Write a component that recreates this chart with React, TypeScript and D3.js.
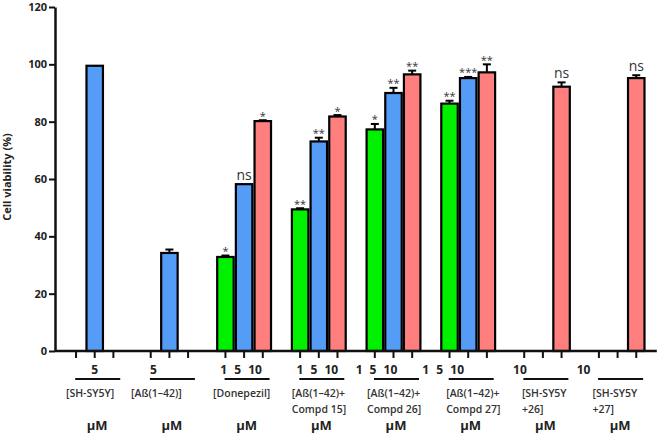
import React, { useEffect, useRef } from "react";
import * as d3 from "d3";

// groups along the x axis
const categories = ["SH-SY5Y", "Ab", "Donepezil", "Compd 15", "Compd 26", "Compd 27", "SH-SY5Y+26", "SH-SY5Y+27"];
const doses = ["1", "5", "10"];

// cell viability (%) per dose, null = not tested
const dose1 = [null, null, 32.8, 49.4, 77.3, 86.3, null, null];
const dose5 = [99.5, 34.2, 58.2, 73.1, 90.0, 95.2, null, null];
const dose10 = [null, null, 80.2, 81.8, 96.5, 97.2, 92.2, 95.2];

// error (SD) per dose
const err1 = [0, 0, 0.5, 0.4, 1.9, 1.0, 0, 0];
const err5 = [0, 1.2, 0, 1.3, 1.8, 0.4, 0, 0];
const err10 = [0, 0, 0.3, 0.5, 1.3, 2.8, 1.5, 1.0];

// significance marks
const sig1 = ["", "", "*", "**", "*", "**", "", ""];
const sig5 = ["", "", "ns", "**", "**", "***", "", ""];
const sig10 = ["", "", "*", "*", "**", "**", "ns", "ns"];

// labels under the axis
const doseLabels = ["5", "5", "1 5 10", "1 5 10", "1 5 10", "1 5 10", "10", "10"];
const groupLabels = [
  ["[SH-SY5Y]"],
  ["[Aß(1–42)]"],
  ["[Donepezil]"],
  ["[Aß(1–42)+", "Compd 15]"],
  ["[Aß(1–42)+", "Compd 26]"],
  ["[Aß(1–42)+", "Compd 27]"],
  ["[SH-SY5Y", "+26]"],
  ["[SH-SY5Y", "+27]"],
];
const yTicks = [0, 20, 40, 60, 80, 100, 120];

const colors: Record<string, string> = { "1": "#00f000", "5": "#559cf7", "10": "#ff7f7f" };

// small nudges to copy where the original placed its labels
const doseShift = [0, -16, -3, -1.5, -17, -25, -23, -34];
const groupShift = [-0.7, -10.4, -3, 1, 1.5, 6, 7, 3];

const font = "'Open Sans', sans-serif";

interface Bar {
  cat: string;
  dose: string;
  value: number;
  err: number;
  sig: string;
}

export default function App() {
  const width = 659,
    height = 437;
  const axisX = 55;

  const y = d3.scaleLinear().domain([0, 120]).range([351, 7]);
  const x0 = d3
    .scaleBand()
    .domain(categories)
    .range([55.5, 656.8])
    .paddingInner(0.25)
    .paddingOuter(0.15);
  const x1 = d3.scaleBand().domain(doses).range([0, x0.bandwidth()]);

  const bars: Bar[] = [];
  const series = [
    { dose: "1", values: dose1, errs: err1, sigs: sig1 },
    { dose: "5", values: dose5, errs: err5, sigs: sig5 },
    { dose: "10", values: dose10, errs: err10, sigs: sig10 },
  ];
  series.forEach((s) => {
    categories.forEach((c, i) => {
      const v = s.values[i];
      if (v !== null) bars.push({ cat: c, dose: s.dose, value: v, err: s.errs[i], sig: s.sigs[i] });
    });
  });

  const ref = useRef<SVGGElement>(null);

  useEffect(() => {
    const g = d3.select(ref.current);
    g.selectAll("*").remove();
    g.call(
      d3
        .axisLeft(y)
        .tickValues(yTicks)
        .tickSize(6)
        .tickSizeOuter(0)
        .tickPadding(2)
    );
    g.select(".domain").attr("stroke", "#111").attr("stroke-width", 2.5);
    g.selectAll(".tick line").attr("stroke", "#111").attr("stroke-width", 2);
    g.selectAll(".tick text")
      .attr("font-family", font)
      .attr("font-weight", 700)
      .attr("font-size", 11)
      .attr("fill", "#222");
  }, []);

  const slot = x1.bandwidth();
  const sw = 2.2;
  const cx = (b: Bar) => (x0(b.cat) as number) + (x1(b.dose) as number) + slot / 2;

  return (
    <svg
      width={width}
      height={height}
      style={{ position: "absolute", left: 0, top: 0, background: "#fff" }}
    >
      {/* y label */}
      <text
        transform="translate(11,177) rotate(-90)"
        textAnchor="middle"
        fontFamily={font}
        fontWeight={700}
        fontSize={11}
        fill="#222"
      >
        Cell viability (%)
      </text>

      {/* bars */}
      {bars.map((b, i) => (
        <rect
          key={"b" + i}
          x={(x0(b.cat) as number) + (x1(b.dose) as number) + sw / 2}
          y={y(b.value)}
          width={slot - sw}
          height={y(0) - y(b.value)}
          fill={colors[b.dose]}
          stroke="#000"
          strokeWidth={sw}
        />
      ))}

      {/* error bars */}
      {bars
        .filter((b) => b.err > 0)
        .map((b, i) => (
          <g key={"e" + i} stroke="#000" strokeWidth={2}>
            <line x1={cx(b)} x2={cx(b)} y1={y(b.value)} y2={y(b.value + b.err)} />
            <line x1={cx(b) - 4} x2={cx(b) + 4} y1={y(b.value + b.err)} y2={y(b.value + b.err)} />
          </g>
        ))}

      {/* significance */}
      {bars
        .filter((b) => b.sig)
        .map((b, i) =>
          b.sig === "ns" ? (
            <text
              key={"s" + i}
              x={cx(b)}
              y={y(b.value + b.err) - 4}
              textAnchor="middle"
              fontFamily={font}
              fontSize={14}
              fill="#333"
            >
              ns
            </text>
          ) : (
            <text
              key={"s" + i}
              x={cx(b)}
              y={y(b.value + b.err) - 0.5}
              textAnchor="middle"
              fontFamily={font}
              fontSize={11}
              fill="#333"
            >
              {b.sig}
            </text>
          )
        )}

      {/* x axis */}
      <line x1={axisX} x2={656.8} y1={y(0)} y2={y(0)} stroke="#111" strokeWidth={2.5} />
      {categories.map((c) =>
        doses.map((d) => {
          const tx = (x0(c) as number) + (x1(d) as number) + slot / 2;
          return (
            <line key={c + d} x1={tx} x2={tx} y1={y(0)} y2={y(0) + 7} stroke="#111" strokeWidth={2} />
          );
        })
      )}

      {/* group labels */}
      {categories.map((c, i) => {
        const left = x0(c) as number;
        const mid = left + x0.bandwidth() / 2;
        return (
          <g key={"l" + c} fontFamily={font} fill="#222">
            <text
              x={mid + doseShift[i]}
              y={374}
              textAnchor="middle"
              fontWeight={700}
              fontSize={12}
              wordSpacing={4}
            >
              {doseLabels[i]}
            </text>
            <line x1={mid - 19.5} x2={mid + 25.5} y1={379} y2={379} stroke="#111" strokeWidth={2} />
            {groupLabels[i].map((t, j) => (
              <text key={j} x={left + groupShift[i]} y={397 + j * 16} fontSize={10.5} fontWeight={600} fill="#333">
                {t}
              </text>
            ))}
            <text x={mid + 2.5} y={430} textAnchor="middle" fontWeight={700} fontSize={13}>
              µM
            </text>
          </g>
        );
      })}

      <g ref={ref} transform={`translate(${axisX},0)`} />
    </svg>
  );
}
